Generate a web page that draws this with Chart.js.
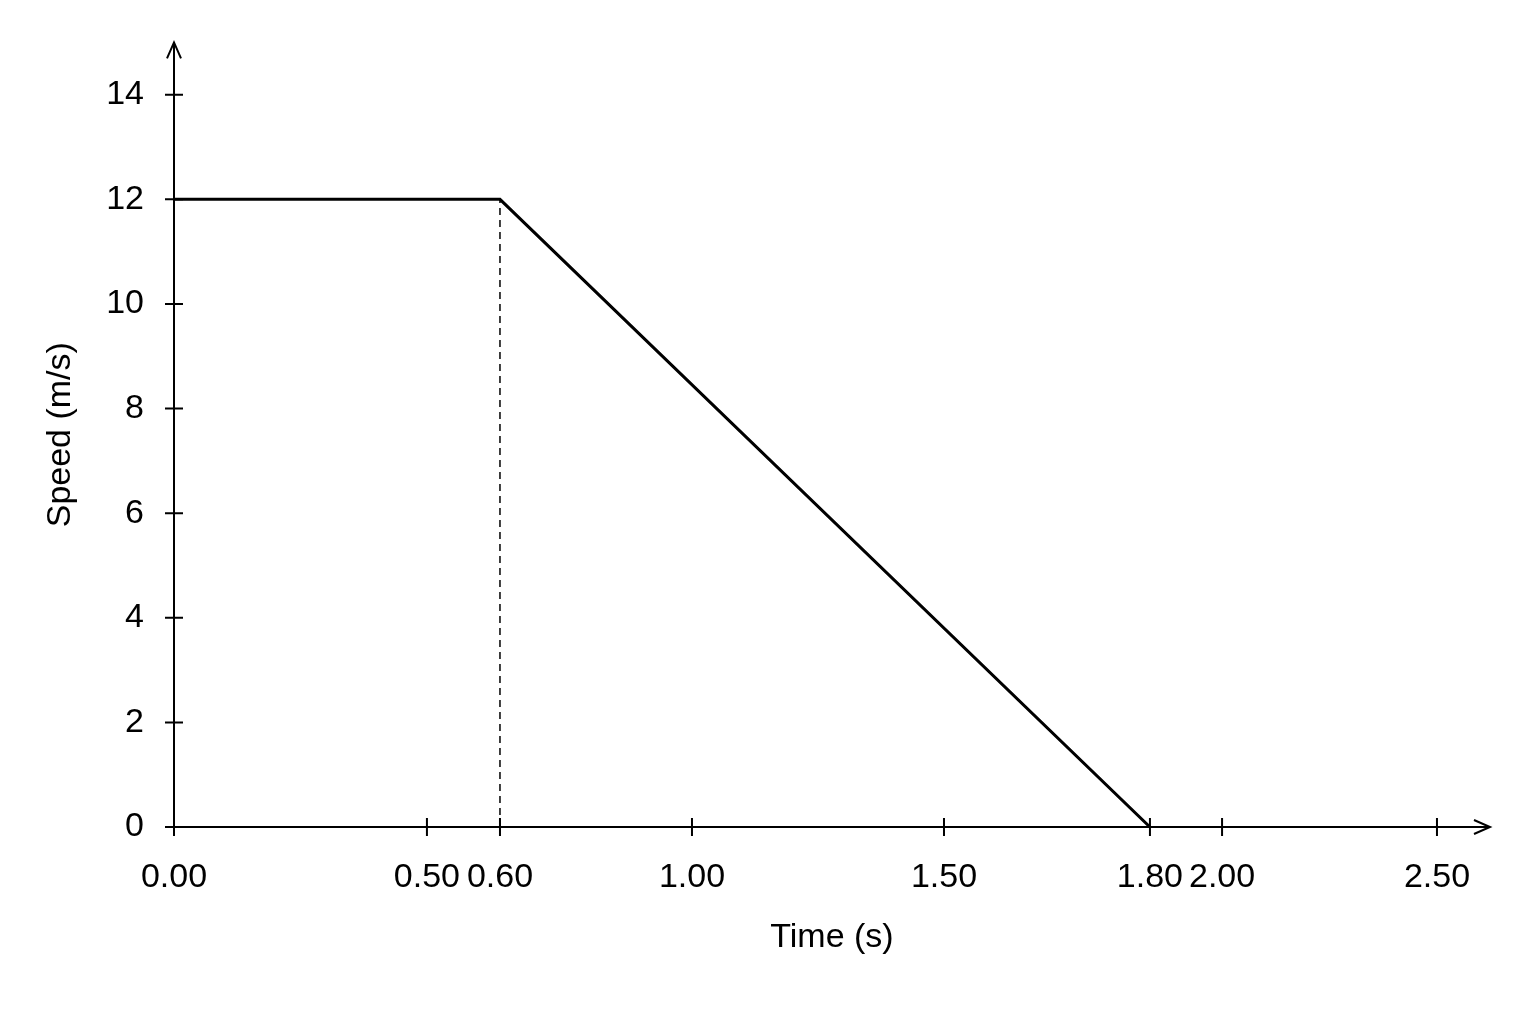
<!DOCTYPE html>
<html><head><meta charset="utf-8">
<script src="https://cdn.jsdelivr.net/npm/chart.js@4"></script>
<style>html,body{margin:0;background:#fff}#w{width:1536px;height:1024px}</style>
</head><body><div id="w"><canvas id="c"></canvas></div>
<script>
const timeValues=[0,0.6,1.8];
const speedValues=[12,12,0];
const dashTime=[0.6,0.6];
const dashSpeed=[0,12];
const xTicks=[0,0.5,0.6,1,1.5,1.8,2,2.5];
const yTicks=[0,2,4,6,8,10,12,14];
// hand-drawn axis: value -> fraction of axis width (as spaced in the original)
const xKnotValues=[0,0.5,0.6,1,1.5,1.8,2,2.5,2.6];
const xKnotFracs=[0,0.1922,0.2477,0.3936,0.5851,0.7416,0.7964,0.9597,1];
class PiecewiseScale extends Chart.LinearScale{
 getPixelForValue(v){const V=xKnotValues,F=xKnotFracs;let i=0;while(i<V.length-2&&v>V[i+1])i++;
  const f=F[i]+(v-V[i])/(V[i+1]-V[i])*(F[i+1]-F[i]);return this.left+f*this.width;}
 getValueForPixel(p){const f=(p-this.left)/this.width,V=xKnotValues,F=xKnotFracs;let i=0;while(i<F.length-2&&f>F[i+1])i++;
  return V[i]+(f-F[i])/(F[i+1]-F[i])*(V[i+1]-V[i]);}
}
PiecewiseScale.id='piecewise';PiecewiseScale.defaults=Chart.LinearScale.defaults;
Chart.register(PiecewiseScale);
const font={family:'"Liberation Sans Narrow", "Liberation Sans", Arial, sans-serif',size:34};
const axisPlugin={id:'ax',afterDraw(ch){
 const c=ch.ctx,a=ch.chartArea,x=ch.scales.x,y=ch.scales.y;
 c.save();c.strokeStyle='#000';c.lineWidth=2;c.beginPath();
 xTicks.forEach(v=>{const p=x.getPixelForValue(v);c.moveTo(p,a.bottom-9);c.lineTo(p,a.bottom+9);});
 yTicks.forEach(v=>{const p=y.getPixelForValue(v);c.moveTo(a.left-9,p);c.lineTo(a.left+9,p);});
 c.moveTo(a.left,a.bottom);c.lineTo(a.left,a.top);c.moveTo(a.left,a.bottom);c.lineTo(a.right,a.bottom);
 c.moveTo(a.left-7,a.top+16);c.lineTo(a.left,a.top);c.lineTo(a.left+7,a.top+16);
 c.moveTo(a.right-16,a.bottom-7);c.lineTo(a.right,a.bottom);c.lineTo(a.right-16,a.bottom+7);
 c.stroke();c.restore();}};
new Chart(document.getElementById('c'),{type:'scatter',
 data:{datasets:[
  {data:timeValues.map((t,i)=>({x:t,y:speedValues[i]})),showLine:true,borderColor:'#000',borderWidth:3,pointRadius:0},
  {data:dashTime.map((t,i)=>({x:t,y:dashSpeed[i]})),showLine:true,borderColor:'#000',borderWidth:1.5,borderDash:[7,5],pointRadius:0}]},
 options:{responsive:true,maintainAspectRatio:false,animation:false,layout:{padding:{right:46,top:40}},
  plugins:{legend:{display:false},tooltip:{enabled:false}},
  scales:{
   x:{type:'piecewise',min:0,max:2.6,grid:{display:false},border:{display:false},
    afterBuildTicks(s){s.ticks=xTicks.map(v=>({value:v}));},
    afterFit(s){s.height=197;},
    ticks:{color:'#000',font,padding:22,maxRotation:0,autoSkip:false,callback:v=>v.toFixed(2)},
    title:{display:true,text:'Time (s)',color:'#000',font,padding:{top:0,bottom:66}}},
   y:{type:'linear',min:0,max:15,grid:{display:false},border:{display:false},
    afterBuildTicks(s){s.ticks=yTicks.map(v=>({value:v}));},
    afterFit(s){s.width=174;},
    ticks:{color:'#000',font,padding:22,autoSkip:false},
    title:{display:true,text:'Speed (m/s)',color:'#000',font,padding:{top:40,bottom:0}}}}},
 plugins:[axisPlugin]});
</script></body></html>
